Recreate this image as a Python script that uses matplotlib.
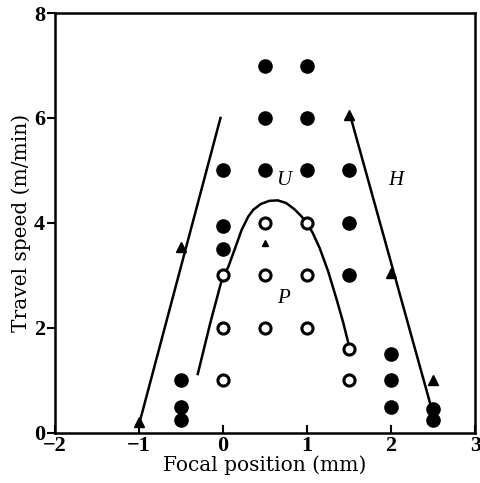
import matplotlib.pyplot as plt
import numpy as np

plt.rcParams['font.family'] = ['Liberation Serif', 'DejaVu Serif']

# filled circles: defects (undercut / humping region)
full_x = [-0.5, -0.5, -0.5, 0, 0, 0, 0.5, 0.5, 0.5, 1, 1, 1, 1.5, 1.5, 1.5, 2, 2, 2, 2.5, 2.5]
full_y = [1.0, 0.5, 0.25, 5, 3.95, 3.5, 7, 6, 5, 7, 6, 5, 5, 4, 3, 1.5, 1.0, 0.5, 0.45, 0.25]

# open circles: sound welds
open_x = [0, 0, 0, 0.5, 0.5, 0.5, 1, 1, 1, 1.5, 1.5]
open_y = [3, 2, 1, 4, 3, 2, 4, 3, 2, 1.6, 1.0]

# triangles
tri_x = [-1, -0.5, 1.5, 2, 2.5]
tri_y = [0.2, 3.55, 6.05, 3.05, 1.0]

# boundary lines
left_x = [-1.0, -0.03]
left_y = [0.15, 6.0]
right_x = [1.53, 2.5]
right_y = [5.95, 0.35]
curve_x = [-0.3, -0.15, 0, 0.06, 0.14, 0.22, 0.3, 0.36, 0.45, 0.55, 0.65, 0.75, 0.85,
           0.93, 1.0, 1.07, 1.15, 1.25, 1.35, 1.43, 1.5]
curve_y = [1.12, 2.1, 3.0, 3.15, 3.5, 3.86, 4.12, 4.25, 4.36, 4.42, 4.43, 4.38, 4.26,
           4.13, 4.0, 3.8, 3.52, 3.08, 2.55, 2.1, 1.65]

fig, ax = plt.subplots(figsize=(4.81, 4.83), dpi=100)
fig.subplots_adjust(left=0.114, right=0.988, bottom=0.104, top=0.973)

ax.plot(left_x, left_y, color='k', lw=1.8)
ax.plot(right_x, right_y, color='k', lw=1.8)
ax.plot(curve_x, curve_y, color='k', lw=1.8, solid_joinstyle='round')

ax.plot(full_x, full_y, 'o', color='k', ms=9.5, ls='none')
ax.plot(open_x, open_y, 'o', mfc='white', mec='k', mew=2.2, ms=8, ls='none')
ax.plot(tri_x, tri_y, '^', color='k', ms=7, ls='none')
ax.plot([0.5], [3.62], '^', color='k', ms=4, ls='none')

ax.text(0.72, 4.8, 'U', fontsize=15, style='italic', ha='center', va='center')
ax.text(2.05, 4.8, 'H', fontsize=15, style='italic', ha='center', va='center')
ax.text(0.72, 2.55, 'P', fontsize=15, style='italic', ha='center', va='center')

ax.set_xlim(-2, 3)
ax.set_ylim(0, 8)
ax.set_xticks([-2, -1, 0, 1, 2, 3])
ax.set_xticklabels(['\u22122', '\u22121', '0', '1', '2', '3'])
ax.set_yticks([0, 2, 4, 6, 8])
ax.tick_params(axis='x', direction='in', length=6, width=1.5, labelsize=16, pad=2)
ax.tick_params(axis='y', direction='out', length=6, width=1.5, labelsize=16, pad=1)
for lbl in ax.get_xticklabels() + ax.get_yticklabels():
    lbl.set_fontweight('bold')
for s in ax.spines.values():
    s.set_linewidth(1.8)

ax.set_xlabel('Focal position (mm)', fontsize=14.5,
              family=['DejaVu Serif'], labelpad=0)
ax.set_ylabel('Travel speed (m/min)', fontsize=14.5,
              family=['DejaVu Serif'], labelpad=2)

plt.savefig('out.png', dpi=100)
